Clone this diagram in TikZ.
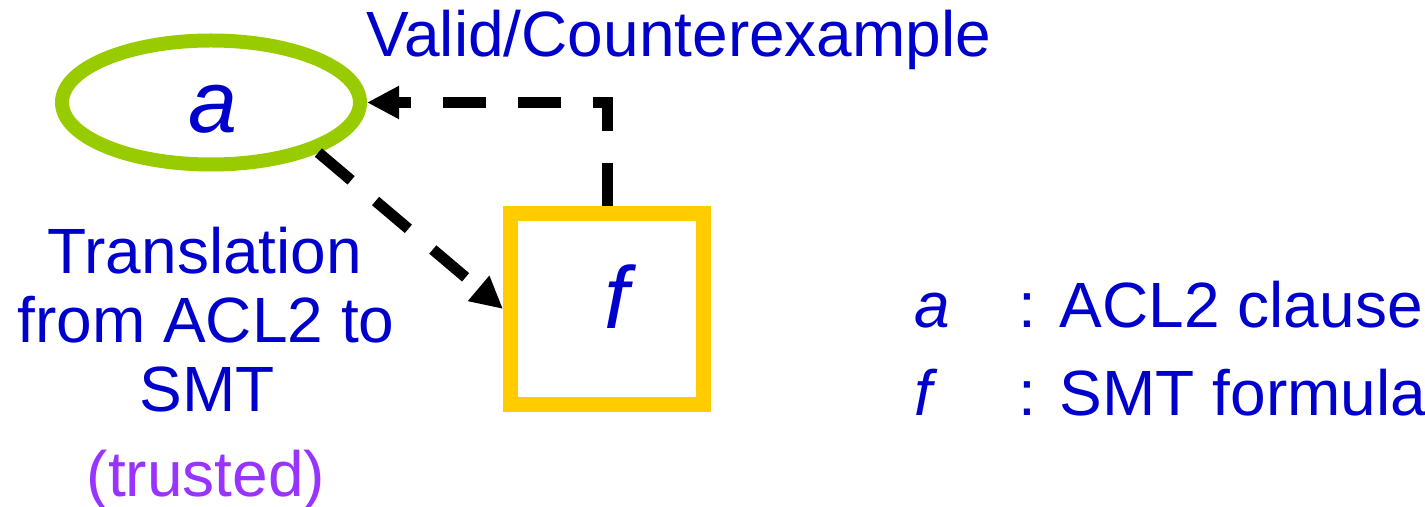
\documentclass[tikz,border=0pt]{standalone}
\usepackage{fontspec}
\setmainfont{Liberation Sans}
\usetikzlibrary{shapes.geometric,arrows.meta}
\definecolor{tblue}{HTML}{0000CC}
\definecolor{tpurple}{HTML}{9933FF}
\definecolor{tgreen}{HTML}{99CC00}
\definecolor{tyellow}{HTML}{FFCC00}
\begin{document}
\begin{tikzpicture}[x=0.5pt,y=-0.5pt,
  txt/.style={text=tblue,font=\fontsize{32pt}{38pt}\selectfont,inner sep=0pt},
  itxt/.style={text=tblue,font=\fontsize{32pt}{38pt}\selectfont\itshape,inner sep=0pt},
  big/.style={text=tblue,font=\fontsize{44pt}{52pt}\selectfont\itshape,inner sep=0pt},
  conn/.style={draw=black,line width=5.5pt,dash pattern=on 21.5pt off 16pt,-{Triangle[length=16pt,width=15.5pt]}},
]
\useasboundingbox (0,0) rectangle (1425,507);
\node[ellipse,draw=tgreen,line width=7pt,minimum width=149pt,minimum height=62pt,inner sep=0pt] (a) at (211,102.5) {};
\node[big,anchor=base] (atext) at (213,133) {a};
\node[rectangle,draw=tyellow,line width=7.5pt,minimum width=96.5pt,minimum height=95.5pt,inner sep=0pt] (f) at (607,309) {};
\node[big,anchor=base] (ftext) at (617,329) {f};
\draw[conn] (f.north) |- (a.east);
\draw[conn] (a.-25.7) -- (f.west);
\node[txt,anchor=base west] (valid) at (366,57) {Valid/Counterexample};
\node[txt,anchor=base] (t1) at (205,274) {Translation};
\node[txt,anchor=base] (t2) at (206,343) {from ACL2 to};
\node[txt,anchor=base] (t3) at (207,412) {SMT};
\node[txt,anchor=base,text=tpurple] (t4) at (206,497) {(trusted)};
\node[itxt,anchor=base west] (la) at (914,328) {a};
\node[txt,anchor=base west] (lat) at (1018,328) {: ACL2 clause};
\node[itxt,anchor=base west] (lf) at (914,416) {f};
\node[txt,anchor=base west] (lft) at (1018,416) {: SMT formula};
\end{tikzpicture}
\end{document}
